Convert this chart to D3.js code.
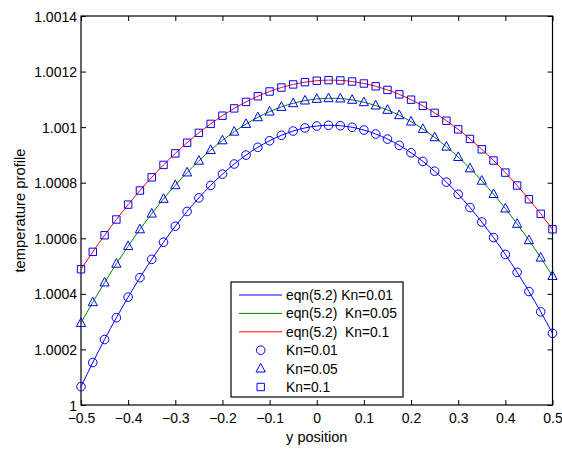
<!DOCTYPE html>
<html>
<head>
<meta charset="utf-8">
<script src="https://cdn.jsdelivr.net/npm/d3@7"></script>
<style>
html,body{margin:0;padding:0;background:#fff;}
svg{display:block;font-family:"Liberation Sans",Arial,Helvetica,sans-serif;}
</style>
</head>
<body>
<svg id="chart" width="562" height="450"></svg>
<script>
// ---- data ----
const yPosition = [-0.5,-0.475,-0.45,-0.425,-0.4,-0.375,-0.35,-0.325,-0.3,-0.275,-0.25,-0.225,-0.2,-0.175,-0.15,-0.125,-0.1,-0.075,-0.05,-0.025,0,
  0.025,0.05,0.075,0.1,0.125,0.15,0.175,0.2,0.225,0.25,0.275,0.3,0.325,0.35,0.375,0.4,0.425,0.45,0.475,0.5];
const kn001 = [1.0000660,1.0001529,1.0002356,1.0003141,1.0003883,1.0004584,1.0005242,1.0005859,1.0006433,1.0006965,1.0007455,
  1.0007903,1.0008309,1.0008673,1.0008994,1.0009274,1.0009511,1.0009707,1.0009860,1.0009971,1.0010040,
  1.0010067,1.0010052,1.0009995,1.0009895,1.0009754,1.0009570,1.0009345,1.0009077,1.0008767,1.0008415,
  1.0008021,1.0007585,1.0007107,1.0006586,1.0006024,1.0005419,1.0004773,1.0004084,1.0003353,1.0002580];
const kn005 = [1.0002950,1.0003696,1.0004407,1.0005081,1.0005718,1.0006320,1.0006886,1.0007416,1.0007909,1.0008366,1.0008788,
  1.0009173,1.0009522,1.0009835,1.0010112,1.0010353,1.0010557,1.0010726,1.0010859,1.0010955,1.0011015,
  1.0011039,1.0011028,1.0010980,1.0010895,1.0010775,1.0010619,1.0010427,1.0010198,1.0009933,1.0009633,
  1.0009296,1.0008923,1.0008514,1.0008069,1.0007588,1.0007070,1.0006517,1.0005928,1.0005302,1.0004640];
const kn01 = [1.0004885,1.0005512,1.0006109,1.0006676,1.0007212,1.0007718,1.0008194,1.0008640,1.0009055,1.0009439,1.0009794,
  1.0010118,1.0010412,1.0010675,1.0010908,1.0011111,1.0011283,1.0011426,1.0011537,1.0011619,1.0011670,
  1.0011691,1.0011681,1.0011642,1.0011571,1.0011471,1.0011340,1.0011179,1.0010988,1.0010766,1.0010514,
  1.0010231,1.0009919,1.0009576,1.0009202,1.0008798,1.0008364,1.0007900,1.0007405,1.0006880,1.0006325];
const xTicks = [-0.5,-0.4,-0.3,-0.2,-0.1,0,0.1,0.2,0.3,0.4,0.5];
const yTicks = [1,1.0002,1.0004,1.0006,1.0008,1.001,1.0012,1.0014];
const lineLabels = ["eqn(5.2) Kn=0.01","eqn(5.2)  Kn=0.05","eqn(5.2)  Kn=0.1"];
const markerLabels = ["Kn=0.01","Kn=0.05","Kn=0.1"];
const xLabel = "y position";
const yLabel = "temperature profile";

// ---- layout ----
const L = 81, R = 552.5, T = 16, B = 405;
const svg = d3.select("#chart");
const x = d3.scaleLinear().domain([-0.5,0.5]).range([L,R]);
const y = d3.scaleLinear().domain([1,1.0014]).range([B,T]);

const lineColors = ["#0000ff","#008000","#ff0000"];
const markerColor = "#0000ff";
const series = [kn001,kn005,kn01];
const shapes = ["circle","triangle","square"];

function markerPath(shape){
  if(shape==="circle"){ const r=4.3; return `M${r},0A${r},${r} 0 1,1 ${-r},0A${r},${r} 0 1,1 ${r},0Z`; }
  if(shape==="triangle"){ return "M0,-5.2L4.6,3.4L-4.6,3.4Z"; }
  const s=3.7; return `M${-s},${-s}L${s},${-s}L${s},${s}L${-s},${s}Z`;
}

// axes
const fmtX = d => d===0 ? "0" : d3.format("")(d).replace("-","\u2212");
const fmtY = d => d===1 ? "1" : d3.format(".4~f")(d);

const gx = svg.append("g").attr("transform",`translate(0,${B})`)
  .call(d3.axisBottom(x).tickValues(xTicks).tickSize(-5).tickPadding(6).tickFormat(fmtX));
const gxt = svg.append("g").attr("transform",`translate(0,${T})`)
  .call(d3.axisTop(x).tickValues(xTicks).tickSize(-5).tickFormat(""));
const gy = svg.append("g").attr("transform",`translate(${L},0)`)
  .call(d3.axisLeft(y).tickValues(yTicks).tickSize(-5).tickPadding(4).tickFormat(fmtY));
const gyr = svg.append("g").attr("transform",`translate(${R},0)`)
  .call(d3.axisRight(y).tickValues(yTicks).tickSize(-5).tickFormat(""));
[gx,gxt,gy,gyr].forEach(g=>{
  g.select(".domain").remove();
  g.selectAll("line").attr("stroke","#000");
  g.selectAll("text").attr("font-size",14).attr("fill","#000")
   .attr("font-family","'Liberation Sans',Arial,sans-serif");
});
gx.selectAll("text").attr("dy","0.88em");
gy.selectAll("text").attr("dy","0.36em");

// box
svg.append("rect").attr("x",L).attr("y",T).attr("width",R-L).attr("height",B-T)
  .attr("fill","none").attr("stroke","#000").attr("stroke-width",1.2);

// lines
const line = d3.line().x((d,i)=>x(yPosition[i])).y(d=>y(d)).curve(d3.curveNatural);
series.forEach((s,k)=>{
  svg.append("path").datum(s).attr("d",line).attr("fill","none")
    .attr("stroke",lineColors[k]).attr("stroke-width",1);
});
// markers
series.forEach((s,k)=>{
  svg.append("g").selectAll("path").data(s).join("path")
    .attr("transform",(d,i)=>`translate(${x(yPosition[i])},${y(d)})`)
    .attr("d",markerPath(shapes[k])).attr("fill","none")
    .attr("stroke",markerColor).attr("stroke-width",1);
});

// axis labels
svg.append("text").attr("x",(L+R)/2).attr("y",442).attr("text-anchor","middle")
  .attr("font-size",14.5).text(xLabel);
svg.append("text").attr("transform",`translate(25,${(T+B)/2}) rotate(-90)`)
  .attr("text-anchor","middle").attr("font-size",14.8).text(yLabel);

// legend
const lg = svg.append("g");
lg.append("rect").attr("x",231).attr("y",282).attr("width",172).attr("height",115)
  .attr("fill","#fff").attr("stroke","#000").attr("stroke-width",1.2);
const rowY = i => 295 + i*18.4;
lineLabels.forEach((t,i)=>{
  lg.append("line").attr("x1",239).attr("x2",282).attr("y1",rowY(i)).attr("y2",rowY(i))
    .attr("stroke",lineColors[i]).attr("stroke-width",1);
  lg.append("text").attr("x",286).attr("y",rowY(i)).attr("dy","0.36em")
    .attr("font-size",13.8).attr("xml:space","preserve").style("white-space","pre").text(t);
});
markerLabels.forEach((t,j)=>{
  const i=j+3;
  lg.append("path").attr("transform",`translate(260.7,${rowY(i)})`).attr("d",markerPath(shapes[j]))
    .attr("fill","none").attr("stroke",markerColor).attr("stroke-width",1);
  lg.append("text").attr("x",286).attr("y",rowY(i)).attr("dy","0.36em")
    .attr("font-size",13.8).text(t);
});
</script>
</body>
</html>
